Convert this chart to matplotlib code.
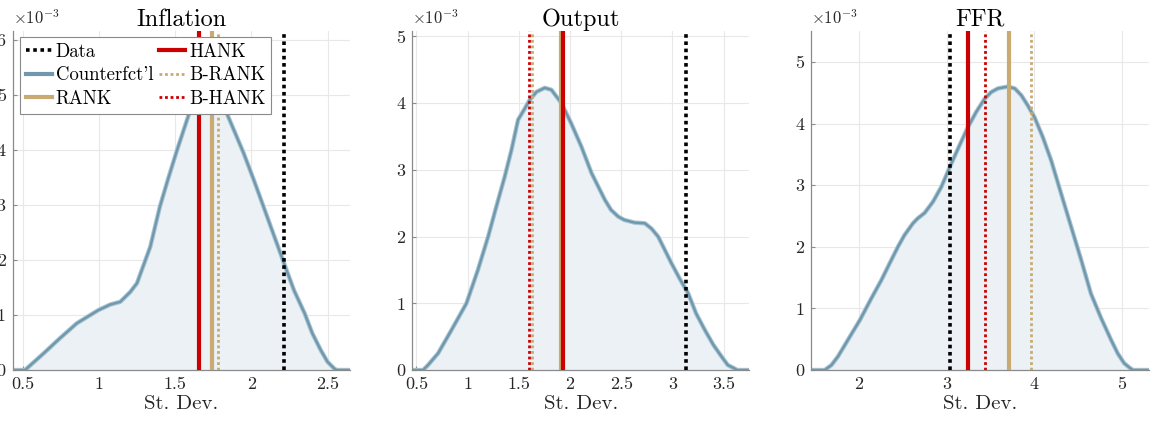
import matplotlib

matplotlib.use("Agg")
import matplotlib.pyplot as plt
from matplotlib.lines import Line2D
from matplotlib.ticker import FuncFormatter

plt.rcParams["font.family"] = "serif"
plt.rcParams["font.serif"] = ["cmr10", "DejaVu Serif"]
plt.rcParams["mathtext.fontset"] = "cm"
plt.rcParams["axes.unicode_minus"] = False

# densities, y in units of 1e-3
INFL_X = [0.43, 0.515, 0.636, 0.745, 0.855, 0.997, 1.074, 1.14, 1.206, 1.25,
          1.337, 1.40, 1.458, 1.513, 1.60, 1.66, 1.72, 1.78, 1.82, 1.886,
          1.95, 2.017, 2.08, 2.148, 2.215, 2.28, 2.35, 2.40, 2.456, 2.5,
          2.543, 2.56, 2.65]
INFL_Y = [0.0, 0.0, 0.30, 0.58, 0.85, 1.09, 1.19, 1.24, 1.42, 1.58,
          2.24, 2.97, 3.51, 4.0, 4.73, 4.95, 5.02, 4.95, 4.79, 4.36,
          3.94, 3.45, 2.97, 2.45, 1.94, 1.45, 1.03, 0.67, 0.36, 0.15,
          0.03, 0.0, 0.0]

OUT_X = [0.45, 0.565, 0.613, 0.711, 0.842, 0.988, 1.10, 1.20, 1.28, 1.362,
         1.428, 1.492, 1.558, 1.606, 1.672, 1.753, 1.818, 1.916, 2.01, 2.11,
         2.21, 2.34, 2.40, 2.47, 2.53, 2.63, 2.73, 2.795, 2.86, 2.925,
         2.99, 3.07, 3.153, 3.23, 3.316, 3.40, 3.48, 3.54, 3.61, 3.63, 3.75]
OUT_Y = [0.0, 0.0, 0.075, 0.25, 0.6, 1.0, 1.5, 2.0, 2.45, 2.9,
         3.3, 3.75, 3.92, 4.05, 4.17, 4.23, 4.2, 4.0, 3.7, 3.35,
         2.95, 2.55, 2.40, 2.30, 2.25, 2.21, 2.2, 2.12, 2.0, 1.8,
         1.6, 1.37, 1.15, 0.85, 0.6, 0.375, 0.2, 0.075, 0.02, 0.0, 0.0]

FFR_X = [1.45, 1.608, 1.685, 1.76, 1.874, 2.01, 2.14, 2.256, 2.35, 2.445,
         2.52, 2.616, 2.67, 2.75, 2.845, 2.94, 3.055, 3.15, 3.244, 3.34,
         3.435, 3.51, 3.587, 3.70, 3.78, 3.854, 3.93, 4.006, 4.10, 4.196,
         4.31, 4.425, 4.54, 4.65, 4.767, 4.88, 4.956, 5.03, 5.09, 5.13, 5.31]
FFR_Y = [0.0, 0.0, 0.08, 0.22, 0.49, 0.81, 1.16, 1.46, 1.73, 2.0,
         2.19, 2.38, 2.46, 2.55, 2.73, 2.97, 3.35, 3.65, 3.94, 4.19,
         4.40, 4.51, 4.57, 4.60, 4.57, 4.46, 4.29, 4.1, 3.78, 3.40,
         2.86, 2.32, 1.78, 1.24, 0.84, 0.49, 0.27, 0.11, 0.04, 0.0, 0.0]

# model / data moments: Data, HANK, B-HANK, RANK, B-RANK
INFL_VLINES = [2.217, 1.655, 1.655, 1.745, 1.783]
OUT_VLINES = [3.13, 1.932, 1.597, 1.909, 1.629]
FFR_VLINES = [3.04, 3.25, 3.44, 3.71, 3.96]

PANELS = [
    ("Inflation", INFL_X, INFL_Y, INFL_VLINES, (0.434, 2.647), 6.16,
     [0.5, 1, 1.5, 2, 2.5], [0, 1, 2, 3, 4, 5, 6]),
    ("Output", OUT_X, OUT_Y, OUT_VLINES, (0.457, 3.75), 5.08,
     [0.5, 1, 1.5, 2, 2.5, 3, 3.5], [0, 1, 2, 3, 4, 5]),
    ("FFR", FFR_X, FFR_Y, FFR_VLINES, (1.457, 5.31), 5.5,
     [2, 3, 4, 5], [0, 1, 2, 3, 4, 5]),
]

RED = "#cc0000"
TAN = "#c8aa72"
BLUE = "#6f98ad"
HALO = "#a9c4d2"
FILL = "#ebf1f4"

VSTYLE = [
    dict(color="black", lw=2.6, ls=(0, (1, 1))),   # Data
    dict(color=RED, lw=3.0, ls="-"),               # HANK
    dict(color=RED, lw=2.0, ls=(0, (1, 1))),       # B-HANK
    dict(color=TAN, lw=3.0, ls="-"),               # RANK
    dict(color=TAN, lw=2.0, ls=(0, (1, 1))),       # B-RANK
]

fig = plt.figure(figsize=(11.51, 4.21), dpi=100)
lefts = [0.011, 0.358, 0.705]

for left, (title, xs, ys, vl, xlim, ytop, xt, yt) in zip(lefts, PANELS):
    ax = fig.add_axes([left, 0.121, 0.293, 0.805])
    ax.fill_between(xs, ys, 0, color=FILL, lw=0, zorder=1)
    ax.plot(xs, ys, color=HALO, lw=3.2, solid_joinstyle="round",
            solid_capstyle="round", zorder=2)
    ax.plot(xs, ys, color=BLUE, lw=1.7, solid_joinstyle="round",
            solid_capstyle="round", zorder=3)
    order = [0, 2, 4, 3, 1] if title == "Output" else [0, 2, 1, 4, 3]
    for k in order:
        ax.axvline(vl[k], zorder=4, **VSTYLE[k])
    ax.set_xlim(*xlim)
    ax.set_ylim(0, ytop)
    ax.set_xticks(xt)
    ax.set_yticks(yt)
    ax.xaxis.set_major_formatter(FuncFormatter(lambda v, p: f"{v:g}"))
    ax.grid(True, color="#e8e8e8", lw=0.8, zorder=0)
    ax.set_axisbelow(True)
    for s in ("top", "right"):
        ax.spines[s].set_visible(False)
    for s in ("left", "bottom"):
        ax.spines[s].set_color("#8a8a8a")
        ax.spines[s].set_linewidth(0.9)
    ax.tick_params(direction="in", length=3, color="#8a8a8a", labelsize=13,
                   labelcolor="#262626", pad=5)
    ax.set_title(title, fontsize=17.5, pad=4)
    ax.set_xlabel("St. Dev.", fontsize=15, color="#262626", labelpad=2)
    ax.text(0.0, 1.012, r"$\times10^{-3}$", transform=ax.transAxes,
            fontsize=12, color="#262626", ha="left", va="bottom")

    if title == "Inflation":
        handles = [
            Line2D([], [], **VSTYLE[0]),
            Line2D([], [], color=BLUE, lw=3.0),
            Line2D([], [], **VSTYLE[3]),
            Line2D([], [], **VSTYLE[1]),
            Line2D([], [], **VSTYLE[4]),
            Line2D([], [], **VSTYLE[2]),
        ]
        labels = ["Data", "Counterfct'l", "RANK", "HANK", "B-RANK", "B-HANK"]
        leg = ax.legend(handles, labels, ncol=2, loc="upper left",
                        bbox_to_anchor=(0.022, 0.982), fontsize=13.5,
                        frameon=True, fancybox=False, framealpha=1,
                        edgecolor="#8a8a8a", handlelength=1.4,
                        handletextpad=0.2, columnspacing=0.3,
                        labelspacing=0.3, borderpad=0.3, borderaxespad=0.0)
        leg.get_frame().set_linewidth(0.8)
        leg.set_zorder(10)

fig.savefig("out.png", dpi=100)
